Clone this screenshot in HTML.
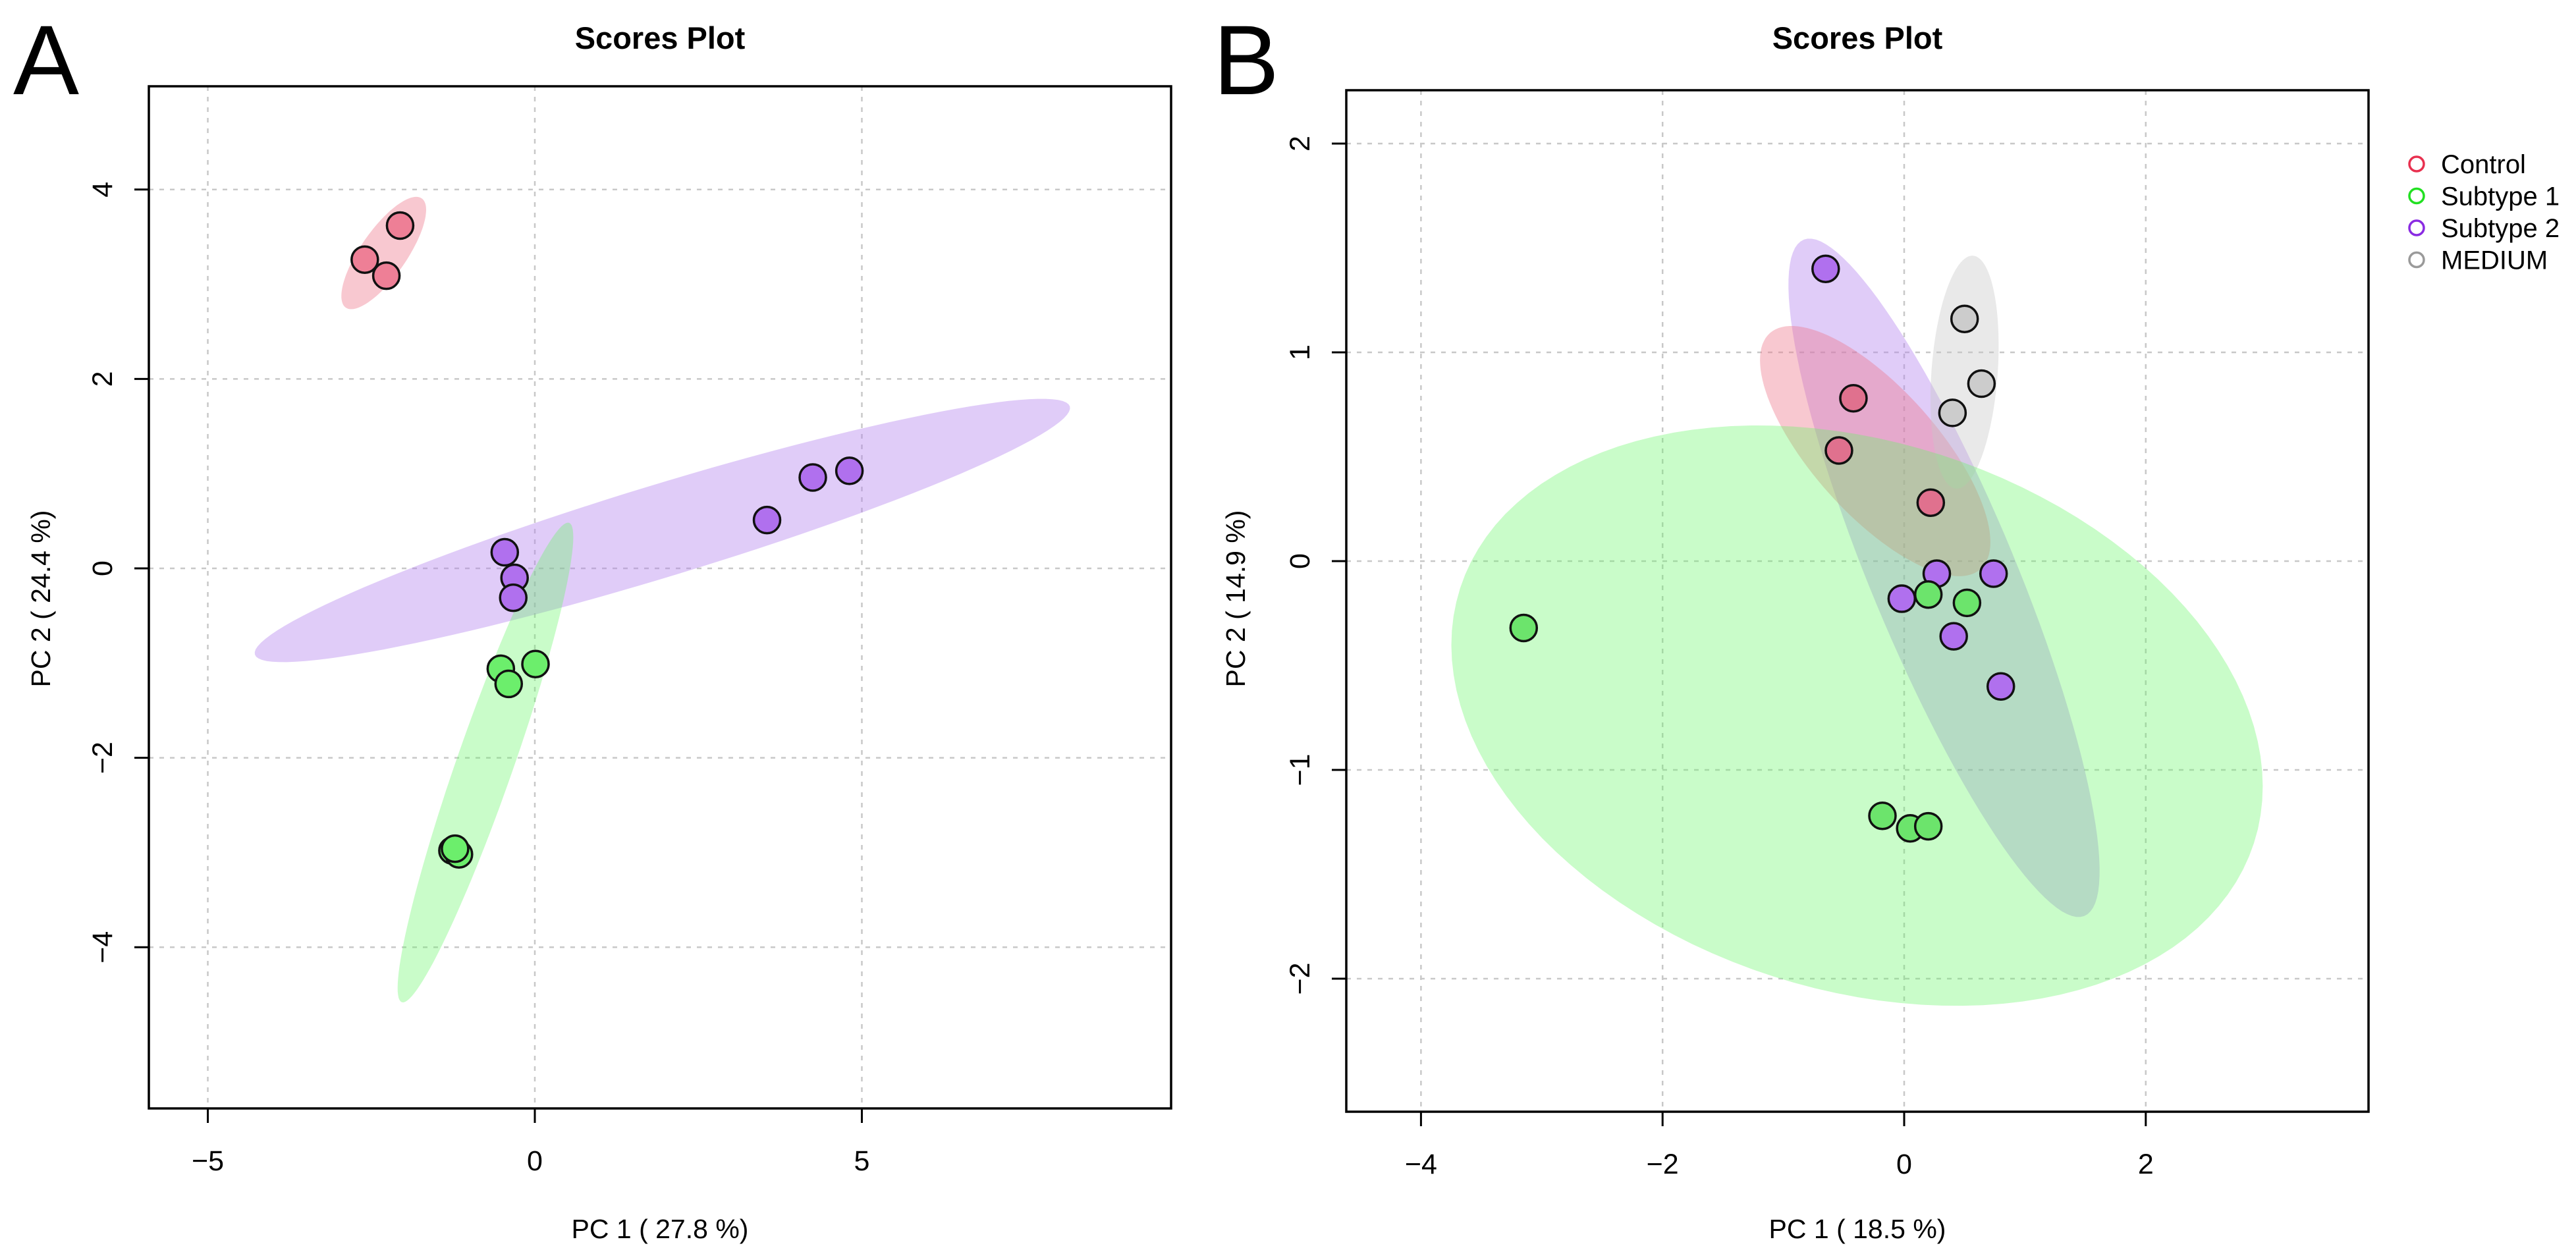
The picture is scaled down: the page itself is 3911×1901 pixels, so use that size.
<!DOCTYPE html>
<html><head><meta charset="utf-8"><style>
html,body{margin:0;padding:0;background:#fff;}
svg{display:block;}
text{font-family:"Liberation Sans",Arial,sans-serif;fill:#000;}
</style></head><body>
<svg id="chart" width="3911" height="1901" viewBox="0 0 3911 1901" xmlns="http://www.w3.org/2000/svg">
<text x="20" y="143" font-size="150">A</text>
<text x="1842" y="143" font-size="150">B</text>
<g id="pa"></g>
<g id="pb"></g>
<g id="legend"></g>
</svg>
<script>
// ---- Panel A data ----
const aCategories = ["Control","Subtype 1","Subtype 2"];
const aControlX = [-2.06,-2.60,-2.27];
const aControlY = [3.62,3.26,3.09];
const aSub1X = [-0.52,-0.40,0.01,-1.26,-1.16,-1.22];
const aSub1Y = [-1.06,-1.22,-1.01,-2.98,-3.02,-2.96];
const aSub2X = [-0.46,-0.31,-0.33,3.55,4.25,4.81];
const aSub2Y = [0.17,-0.10,-0.31,0.51,0.96,1.03];
// ellipses: center x, center y, conjugate axis vectors (data units)
const aEllControl = [-2.31,3.33,0.58,0.577,0.289,-0.138];
const aEllSub1 = [-0.755,-2.05,1.279,2.531,0.409,-0.098];
const aEllSub2 = [1.95,0.40,6.23,1.31,0.206,-0.466];
const aXTicks = [-5,0,5];
const aYTicks = [-4,-2,0,2,4];
// ---- Panel B data ----
const bCategories = ["Control","Subtype 1","Subtype 2","MEDIUM"];
const bControlX = [-0.42,-0.54,0.22];
const bControlY = [0.78,0.53,0.28];
const bSub1X = [-3.15,0.20,0.52,-0.18,0.05,0.20];
const bSub1Y = [-0.32,-0.16,-0.20,-1.22,-1.28,-1.27];
const bSub2X = [-0.65,0.27,0.74,-0.02,0.41,0.80];
const bSub2Y = [1.40,-0.06,-0.06,-0.18,-0.36,-0.60];
const bMediumX = [0.50,0.64,0.40];
const bMediumY = [1.16,0.85,0.71];
const bEllControl = [-0.24,0.527,0.872,-0.565,0.386,0.200];
const bEllSub1 = [-0.39,-0.74,3.286,-0.610,-0.694,-1.249];
const bEllSub2 = [0.33,-0.08,1.16,-1.62,0.56,0.125];
const bEllMedium = [0.50,0.905,-0.071,-0.558,0.273,-0.013];
const bXTicks = [-4,-2,0,2];
const bYTicks = [-2,-1,0,1,2];

const NS="http://www.w3.org/2000/svg";
function mk(parent,tag,attrs){const e=document.createElementNS(NS,tag);for(const k in attrs)e.setAttribute(k,attrs[k]);parent.appendChild(e);return e;}

function panel(g,cfg){
  const sx=v=>cfg.x0+v*cfg.kx, sy=v=>cfg.y0-v*cfg.ky;
  cfg.xt.forEach(t=>{const l=mk(g,'line',{x1:sx(t),x2:sx(t),y1:cfg.top,y2:cfg.bot,stroke:'#c8c8c8','stroke-width':2.5,'stroke-dasharray':'7 9'});
    
    });
  cfg.yt.forEach(t=>{const l=mk(g,'line',{x1:cfg.left,x2:cfg.right,y1:sy(t),y2:sy(t),stroke:'#c8c8c8','stroke-width':2.5,'stroke-dasharray':'7 9'});
    
    });
  cfg.ells.forEach(([e,col,nm])=>{
    let d='';for(let i=0;i<=120;i++){const t=i/120*2*Math.PI;const px=sx(e[0]+e[2]*Math.cos(t)+e[4]*Math.sin(t));const py=sy(e[1]+e[3]*Math.cos(t)+e[5]*Math.sin(t));d+=(i?'L':'M')+px.toFixed(1)+' '+py.toFixed(1);}
    const p=mk(g,'path',{d:d+'Z',fill:col,stroke:'none'});
    
    
  });
  cfg.pts.forEach(([xs,ys,col,nm])=>{xs.forEach((v,i)=>{
    const c=mk(g,'circle',{cx:sx(v),cy:sy(ys[i]),r:20,fill:col,stroke:'#111','stroke-width':3.5});
    
    
  });});
  const b=mk(g,'rect',{x:cfg.left,y:cfg.top,width:cfg.right-cfg.left,height:cfg.bot-cfg.top,fill:'none',stroke:'#000','stroke-width':3.5});
  
  
  cfg.xt.forEach(t=>{
    const l=mk(g,'line',{x1:sx(t),x2:sx(t),y1:cfg.bot,y2:cfg.bot+22,stroke:'#000','stroke-width':3});
    
    
    const tx=mk(g,'text',{x:sx(t),y:cfg.bot+94,'font-size':43,'text-anchor':'middle'});tx.textContent=(t<0?'\u2212'+(-t):t);
    
    
  });
  cfg.yt.forEach(t=>{
    const l=mk(g,'line',{x1:cfg.left-22,x2:cfg.left,y1:sy(t),y2:sy(t),stroke:'#000','stroke-width':3});
    
    
    const tx=mk(g,'text',{x:0,y:0,'font-size':43,'text-anchor':'middle',transform:`translate(${cfg.left-56},${sy(t)}) rotate(-90)`});tx.textContent=(t<0?'\u2212'+(-t):t);
    
    
  });
  const mid=(cfg.left+cfg.right)/2;
  const ti=mk(g,'text',{x:mid,y:74,'font-size':47,'font-weight':'bold','text-anchor':'middle'});ti.textContent='Scores Plot';
  
  
  const xl=mk(g,'text',{x:mid,y:1880,'font-size':41,'text-anchor':'middle'});xl.textContent=cfg.xlab;
  
  
  const yl=mk(g,'text',{x:0,y:0,'font-size':41,'text-anchor':'middle',transform:`translate(${cfg.ylx},909) rotate(-90)`});yl.textContent=cfg.ylab;
  
  
}

panel(document.getElementById('pa'),{x0:812,kx:99.3,y0:863,ky:143.8,left:226,right:1778,top:131,bot:1683,
  xt:aXTicks,yt:aYTicks,xlab:'PC 1 ( 27.8 %)',ylab:'PC 2 ( 24.4 %)',ylx:76,
  ells:[[aEllSub2,'rgba(178,127,237,0.4)','ellipse-subtype-2'],[aEllControl,'rgba(237,117,137,0.4)','ellipse-control'],[aEllSub1,'rgba(100,245,100,0.35)','ellipse-subtype-1']],
  pts:[[aControlX,aControlY,'#ee7f96','point-control'],[aSub2X,aSub2Y,'#b070ee','point-subtype-2'],[aSub1X,aSub1Y,'#6cee6c','point-subtype-1']]});

panel(document.getElementById('pb'),{x0:2891,kx:183.4,y0:852,ky:317,left:2044,right:3596,top:137,bot:1688,
  xt:bXTicks,yt:bYTicks,xlab:'PC 1 ( 18.5 %)',ylab:'PC 2 ( 14.9 %)',ylx:1890,
  ells:[[bEllSub2,'rgba(178,127,237,0.4)','ellipse-subtype-2'],[bEllControl,'rgba(237,117,137,0.4)','ellipse-control'],[bEllMedium,'rgba(200,200,200,0.4)','ellipse-medium'],[bEllSub1,'rgba(100,245,100,0.35)','ellipse-subtype-1']],
  pts:[[bSub2X,bSub2Y,'#b070ee','point-subtype-2'],[bControlX,bControlY,'#e0718e','point-control'],[bMediumX,bMediumY,'#cccccc','point-medium'],[bSub1X,bSub1Y,'#6ce46c','point-subtype-1']]});

const legCols=['#e8304f','#22e022','#8a2be2','#9a9a9a'];
const lg=document.getElementById('legend');
bCategories.forEach((c,i)=>{
  const y=249+i*48.5;
  const ci=mk(lg,'circle',{cx:3669,cy:y,r:11,fill:'none',stroke:legCols[i],'stroke-width':3.5});
  
  
  const t=mk(lg,'text',{x:3706,y:y+14,'font-size':40});t.textContent=c;
  
  
});
</script>
</body></html>
